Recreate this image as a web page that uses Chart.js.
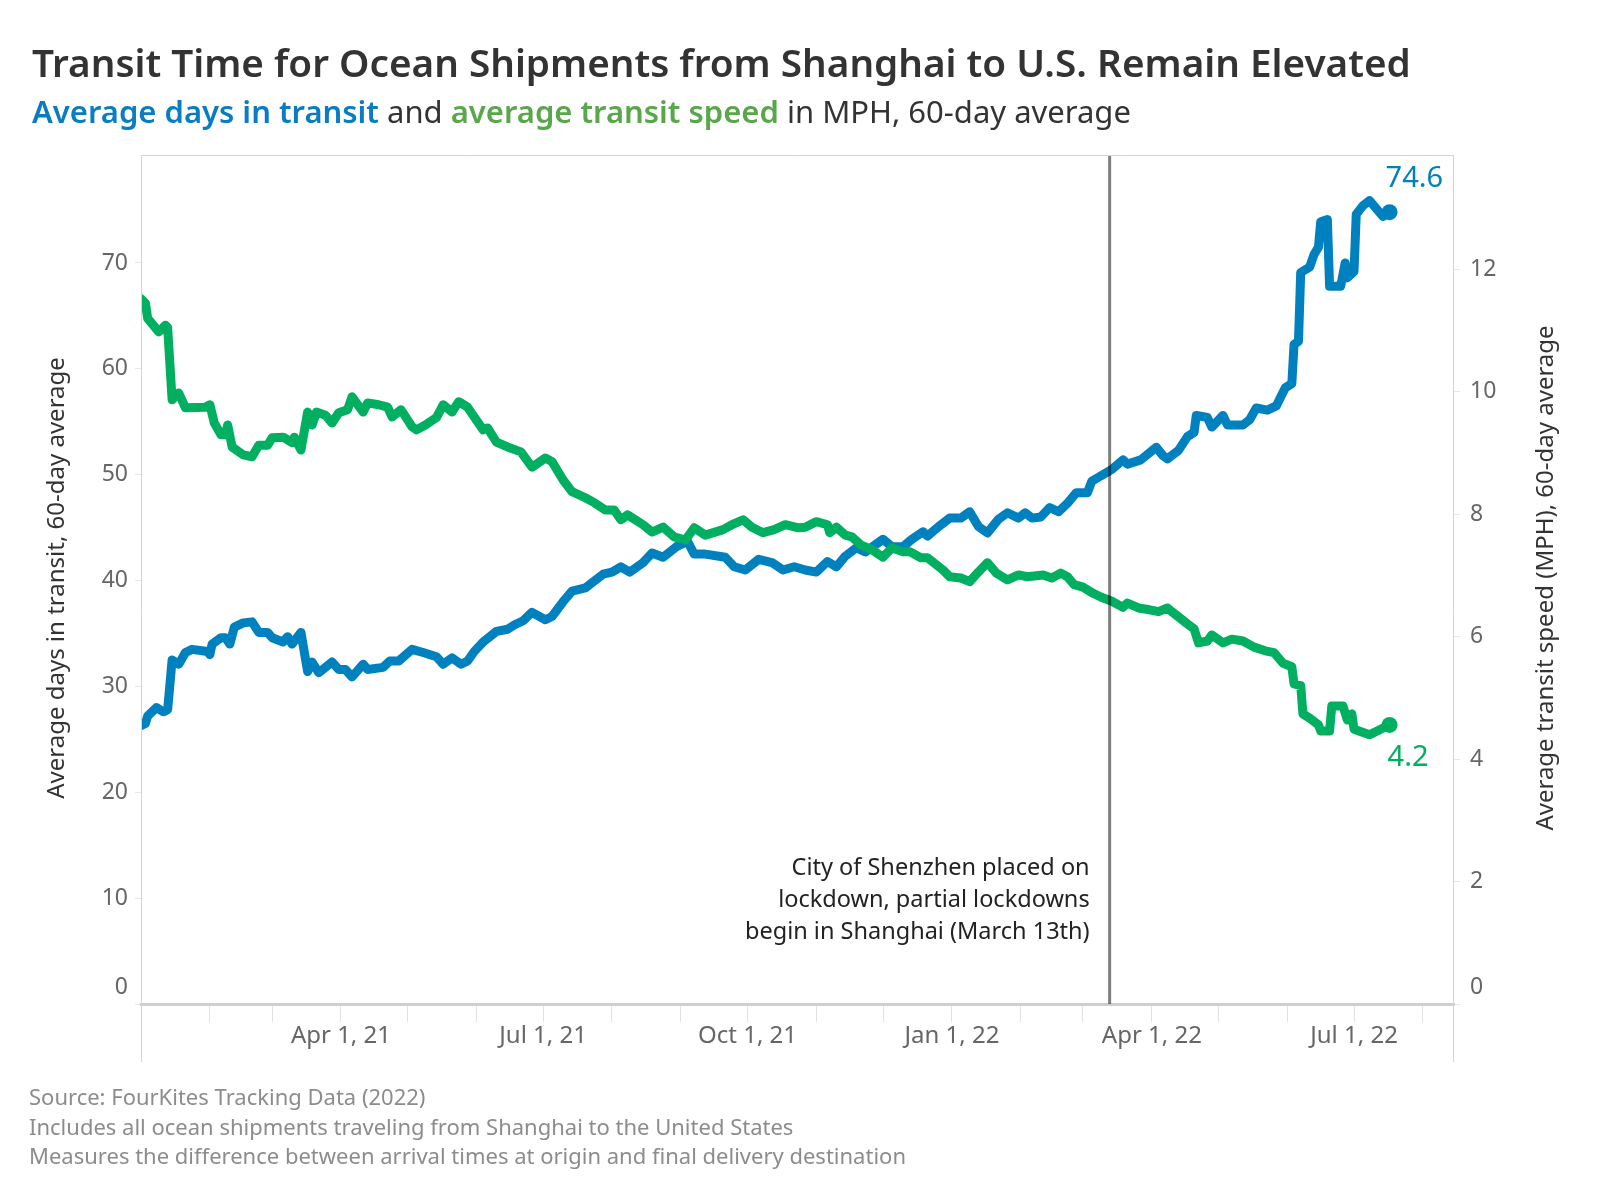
<!DOCTYPE html>
<html>
<head>
<meta charset="utf-8">
<script src="https://cdn.jsdelivr.net/npm/chart.js@4.4.1/dist/chart.umd.min.js"></script>
<style>
  html, body { margin: 0; padding: 0; background: #fff; }
  #wrap { width: 1600px; height: 1200px; position: relative; }
</style>
</head>
<body>
<div id="wrap"><canvas id="chart" width="1600" height="1200"></canvas></div>
<script>
// days counted from Jan 1, 2021
const transitDays = [0, 2, 3, 7, 10, 12, 14, 17, 20, 23, 30, 31, 32, 36, 38, 40, 42, 46, 50, 53, 57, 59, 64, 66, 68, 72, 75, 77, 80, 86, 89, 92, 95, 100, 102, 109, 112, 116, 122, 127, 133, 136, 140, 144, 147, 150, 154, 160, 165, 168, 172, 176, 182, 185, 190, 194, 200, 203, 208, 212, 216, 220, 226, 230, 235, 241, 246, 249, 254, 263, 267, 272, 278, 284, 289, 294, 299, 304, 309, 313, 317, 322, 326, 334, 338, 343, 347, 352, 354, 359, 364, 369, 373, 377, 381, 386, 390, 395, 398, 401, 405, 409, 413, 417, 421, 426, 428, 433, 437, 442, 444, 450, 457, 460, 462, 467, 471, 474, 475, 480, 482, 487, 489, 496, 499, 502, 507, 511, 515, 518, 519, 521, 522, 526, 528, 530, 531, 534, 535, 540, 542, 543, 546, 547, 550, 553, 559, 562];
const transitValues = [26.3, 26.5, 27.2, 28.0, 27.6, 27.8, 32.5, 32.1, 33.2, 33.5, 33.3, 33.0, 34.0, 34.6, 34.6, 34.0, 35.6, 36.0, 36.1, 35.1, 35.1, 34.6, 34.2, 34.7, 34.0, 35.1, 31.4, 32.3, 31.3, 32.3, 31.6, 31.6, 30.9, 32.1, 31.6, 31.8, 32.4, 32.4, 33.5, 33.2, 32.8, 32.1, 32.7, 32.1, 32.4, 33.3, 34.2, 35.2, 35.4, 35.8, 36.2, 37.0, 36.3, 36.6, 38.0, 39.0, 39.3, 39.8, 40.6, 40.8, 41.3, 40.8, 41.7, 42.6, 42.2, 43.2, 43.7, 42.5, 42.5, 42.2, 41.3, 41.0, 42.0, 41.7, 41.0, 41.3, 41.0, 40.8, 41.8, 41.3, 42.3, 43.1, 42.7, 43.9, 43.2, 43.2, 43.9, 44.6, 44.2, 45.1, 45.9, 45.9, 46.5, 45.1, 44.5, 45.8, 46.4, 45.9, 46.4, 45.9, 46.0, 46.9, 46.5, 47.3, 48.3, 48.3, 49.4, 50.0, 50.5, 51.4, 51.0, 51.4, 52.6, 51.8, 51.5, 52.3, 53.6, 54.0, 55.6, 55.4, 54.5, 55.6, 54.7, 54.7, 55.2, 56.3, 56.1, 56.5, 58.2, 58.6, 62.3, 62.6, 69.1, 69.6, 70.8, 71.5, 73.9, 74.1, 67.8, 67.8, 70.0, 68.6, 69.2, 74.6, 75.4, 75.9, 74.4, 74.8];

const speedDays = [0, 2, 3, 8, 11, 12, 14, 17, 20, 29, 31, 33, 36, 38, 39, 41, 46, 50, 53, 57, 59, 64, 68, 69, 72, 75, 77, 79, 83, 86, 89, 93, 95, 100, 102, 107, 111, 113, 117, 122, 124, 128, 133, 136, 140, 143, 147, 150, 154, 156, 160, 165, 171, 176, 182, 185, 190, 194, 200, 204, 209, 213, 216, 219, 226, 230, 235, 240, 245, 249, 254, 262, 266, 271, 275, 280, 285, 290, 296, 299, 304, 309, 310, 313, 317, 320, 324, 329, 334, 338, 343, 346, 351, 354, 361, 364, 369, 373, 377, 381, 385, 390, 395, 399, 406, 410, 414, 417, 420, 424, 428, 432, 437, 442, 444, 449, 454, 458, 462, 464, 471, 474, 476, 480, 482, 487, 491, 496, 501, 506, 510, 514, 518, 519, 522, 523, 526, 530, 531, 535, 536, 541, 543, 545, 546, 553, 558, 562];
const speedValues = [11.52, 11.45, 11.20, 10.98, 11.09, 11.05, 9.87, 9.98, 9.74, 9.75, 9.79, 9.49, 9.30, 9.30, 9.46, 9.10, 8.97, 8.94, 9.13, 9.13, 9.25, 9.26, 9.17, 9.26, 9.05, 9.67, 9.46, 9.67, 9.62, 9.49, 9.66, 9.71, 9.92, 9.67, 9.82, 9.79, 9.75, 9.59, 9.71, 9.43, 9.38, 9.46, 9.58, 9.79, 9.67, 9.84, 9.75, 9.59, 9.38, 9.41, 9.18, 9.10, 9.02, 8.77, 8.92, 8.86, 8.56, 8.37, 8.27, 8.19, 8.07, 8.07, 7.91, 7.99, 7.83, 7.71, 7.79, 7.63, 7.58, 7.78, 7.66, 7.75, 7.83, 7.91, 7.79, 7.70, 7.75, 7.83, 7.78, 7.79, 7.88, 7.83, 7.70, 7.79, 7.66, 7.63, 7.50, 7.42, 7.30, 7.45, 7.39, 7.39, 7.29, 7.29, 7.09, 6.98, 6.96, 6.90, 7.06, 7.21, 7.04, 6.93, 7.01, 6.98, 7.01, 6.96, 7.04, 6.98, 6.85, 6.81, 6.72, 6.65, 6.58, 6.48, 6.55, 6.47, 6.44, 6.41, 6.47, 6.41, 6.21, 6.13, 5.90, 5.93, 6.03, 5.90, 5.96, 5.93, 5.83, 5.77, 5.74, 5.57, 5.51, 5.23, 5.20, 4.74, 4.67, 4.56, 4.46, 4.46, 4.87, 4.87, 4.64, 4.74, 4.49, 4.40, 4.49, 4.56];

const leftTicks = [0, 10, 20, 30, 40, 50, 60, 70];
const rightTicks = [0, 2, 4, 6, 8, 10, 12];
const quarterLabels = { '2021-04-01': 'Apr 1, 21', '2021-07-01': 'Jul 1, 21', '2021-10-01': 'Oct 1, 21', '2022-01-01': 'Jan 1, 22', '2022-04-01': 'Apr 1, 22', '2022-07-01': 'Jul 1, 22' };
const lockdownDate = '2022-03-13';
const transitLabel = '74.6';
const speedLabel = '4.2';

const BLUE = '#0081bf';
const GREEN = '#00b060';
const FONT = '"Noto Sans", "Open Sans", sans-serif';

function dayOf(iso) {
    return Math.round((Date.parse(iso) - Date.UTC(2021, 0, 1)) / 86400000);
}

// month start ticks for the x axis
const monthTicks = [];
for (let y = 2021; y <= 2022; y++) {
    for (let m = 0; m < 12; m++) {
        const d = Math.round((Date.UTC(y, m, 1) - Date.UTC(2021, 0, 1)) / 86400000);
        if (d <= 591) monthTicks.push({ value: d, iso: new Date(Date.UTC(y, m, 1)).toISOString().slice(0, 10) });
    }
}

const decorations = {
    id: 'decorations',
    afterDatasetsDraw(chart) {
        const { ctx, chartArea, scales } = chart;
        const x = scales.x;
        ctx.save();

        // lockdown marker
        const lx = x.getPixelForValue(dayOf(lockdownDate));
        ctx.strokeStyle = 'rgba(0,0,0,0.5)';
        ctx.lineWidth = 3;
        ctx.beginPath();
        ctx.moveTo(lx, chartArea.top);
        ctx.lineTo(lx, chartArea.bottom);
        ctx.stroke();

        ctx.fillStyle = '#222';
        ctx.font = '23.5px ' + FONT;
        ctx.textAlign = 'right';
        ctx.textBaseline = 'middle';
        ['City of Shenzhen placed on', 'lockdown, partial lockdowns', 'begin in Shanghai (March 13th)'].forEach((t, i) => {
            ctx.fillText(t, lx - 20, 868 + i * 32);
        });

        // end labels
        const bMeta = chart.getDatasetMeta(1).data;
        const gMeta = chart.getDatasetMeta(0).data;
        const bLast = bMeta[bMeta.length - 1];
        const gLast = gMeta[gMeta.length - 1];
        ctx.textAlign = 'left';
        ctx.font = '29px ' + FONT;
        ctx.fillStyle = BLUE;
        ctx.fillText(transitLabel, bLast.x - 4, bLast.y - 33);
        ctx.fillStyle = GREEN;
        ctx.fillText(speedLabel, gLast.x - 2, gLast.y + 33);
        ctx.restore();
    },
    afterDraw(chart) {
        const { ctx, chartArea, scales } = chart;
        ctx.save();
        // frame lines
        ctx.strokeStyle = '#d4d4d4';
        ctx.lineWidth = 1;
        ctx.beginPath();
        ctx.moveTo(chartArea.left, chartArea.top + 0.5);
        ctx.lineTo(chartArea.right, chartArea.top + 0.5);
        ctx.moveTo(chartArea.left + 0.5, chartArea.top);
        ctx.lineTo(chartArea.left + 0.5, 1062);
        ctx.moveTo(chartArea.right - 0.5, chartArea.top);
        ctx.lineTo(chartArea.right - 0.5, 1062);
        ctx.stroke();

        // y tick labels (the zero label sits a little above its tick, as in the original)
        ctx.fillStyle = '#666';
        ctx.font = '23px ' + FONT;
        ctx.textBaseline = 'middle';
        ctx.textAlign = 'right';
        leftTicks.forEach(v => {
            const y = scales.y.getPixelForValue(v) - (v === 0 ? 17 : 0);
            ctx.fillText(String(v), chartArea.left - 13, y);
        });
        ctx.textAlign = 'left';
        rightTicks.forEach(v => {
            const y = scales.y1.getPixelForValue(v) - (v === 0 ? 17 : 0);
            ctx.fillText(String(v), chartArea.right + 16, y);
        });

        // title + subtitle
        ctx.textAlign = 'left';
        ctx.fillStyle = '#333';
        ctx.font = '600 38.7px ' + FONT;
        ctx.fillText('Transit Time for Ocean Shipments from Shanghai to U.S. Remain Elevated', 32, 66);

        const parts = [
            ['Average days in transit', '#0a7dc2', '600'],
            [' and ', '#333', '400'],
            ['average transit speed', '#5aa64b', '600'],
            [' in MPH, 60-day average', '#333', '400']
        ];
        let px = 32;
        parts.forEach(([t, c, w]) => {
            ctx.font = w + ' 31px ' + FONT;
            ctx.fillStyle = c;
            ctx.fillText(t, px, 114);
            px += ctx.measureText(t).width;
        });

        // axis titles
        ctx.fillStyle = '#333';
        ctx.font = '24px ' + FONT;
        ctx.textAlign = 'center';
        ctx.save();
        ctx.translate(57, 578);
        ctx.rotate(-Math.PI / 2);
        ctx.fillText('Average days in transit, 60-day average', 0, 0);
        ctx.restore();
        ctx.save();
        ctx.translate(1546, 578);
        ctx.rotate(-Math.PI / 2);
        ctx.fillText('Average transit speed (MPH), 60-day average', 0, 0);
        ctx.restore();

        // footnotes
        ctx.textAlign = 'left';
        ctx.fillStyle = '#8c8c8c';
        ctx.font = '22px ' + FONT;
        ['Source: FourKites Tracking Data (2022)',
         'Includes all ocean shipments traveling from Shanghai to the United States',
         'Measures the difference between arrival times at origin and final delivery destination'
        ].forEach((t, i) => ctx.fillText(t, 29, 1099 + i * 29.5));
        ctx.restore();
    }
};

const lastDot = (ctx) => ctx.dataIndex === ctx.dataset.data.length - 1 ? 8 : 0;

new Chart(document.getElementById('chart'), {
    type: 'line',
    data: {
        datasets: [
            {
                label: 'Average transit speed',
                data: speedDays.map((d, i) => ({ x: d, y: speedValues[i] })),
                yAxisID: 'y1',
                borderColor: GREEN,
                backgroundColor: GREEN,
                borderWidth: 9,
                tension: 0,
                borderJoinStyle: 'round',
                borderCapStyle: 'round',
                pointRadius: lastDot,
                pointBorderWidth: 0,
                pointBackgroundColor: GREEN
            },
            {
                label: 'Average days in transit',
                data: transitDays.map((d, i) => ({ x: d, y: transitValues[i] })),
                yAxisID: 'y',
                borderColor: BLUE,
                backgroundColor: BLUE,
                borderWidth: 9,
                tension: 0,
                borderJoinStyle: 'round',
                borderCapStyle: 'round',
                pointRadius: lastDot,
                pointBorderWidth: 0,
                pointBackgroundColor: BLUE
            }
        ]
    },
    options: {
        responsive: false,
        animation: false,
        devicePixelRatio: 1,
        layout: { padding: { top: 155, left: 0, right: 0, bottom: 0 } },
        plugins: { legend: { display: false }, tooltip: { enabled: false } },
        scales: {
            x: {
                type: 'linear',
                min: 0,
                max: 591,
                afterBuildTicks: (scale) => { scale.ticks = monthTicks.map(t => ({ value: t.value })); },
                afterFit: (scale) => { scale.height = 196; },
                grid: { drawOnChartArea: false, drawTicks: true, tickLength: 18, color: '#e2e2e2' },
                border: { display: true, color: '#cfcfcf', width: 3 },
                ticks: {
                    autoSkip: false,
                    maxRotation: 0,
                    padding: 0,
                    color: '#666',
                    font: { family: FONT, size: 24 },
                    callback: (v) => {
                        const t = monthTicks.find(m => m.value === v);
                        return t && quarterLabels[t.iso] ? quarterLabels[t.iso] : '';
                    }
                }
            },
            y: {
                position: 'left',
                min: 0,
                max: 80.2,
                afterBuildTicks: (scale) => { scale.ticks = leftTicks.map(v => ({ value: v })); },
                afterFit: (scale) => { scale.width = 141; },
                grid: { drawOnChartArea: false, drawTicks: true, tickLength: 6, color: '#e6e6e6' },
                border: { display: false },
                ticks: { display: false }
            },
            y1: {
                position: 'right',
                min: 0,
                max: 13.87,
                afterBuildTicks: (scale) => { scale.ticks = rightTicks.map(v => ({ value: v })); },
                afterFit: (scale) => { scale.width = 146; },
                grid: { drawOnChartArea: false, drawTicks: true, tickLength: 6, color: '#e6e6e6' },
                border: { display: false },
                ticks: { display: false }
            }
        }
    },
    plugins: [decorations]
});
</script>
</body>
</html>
